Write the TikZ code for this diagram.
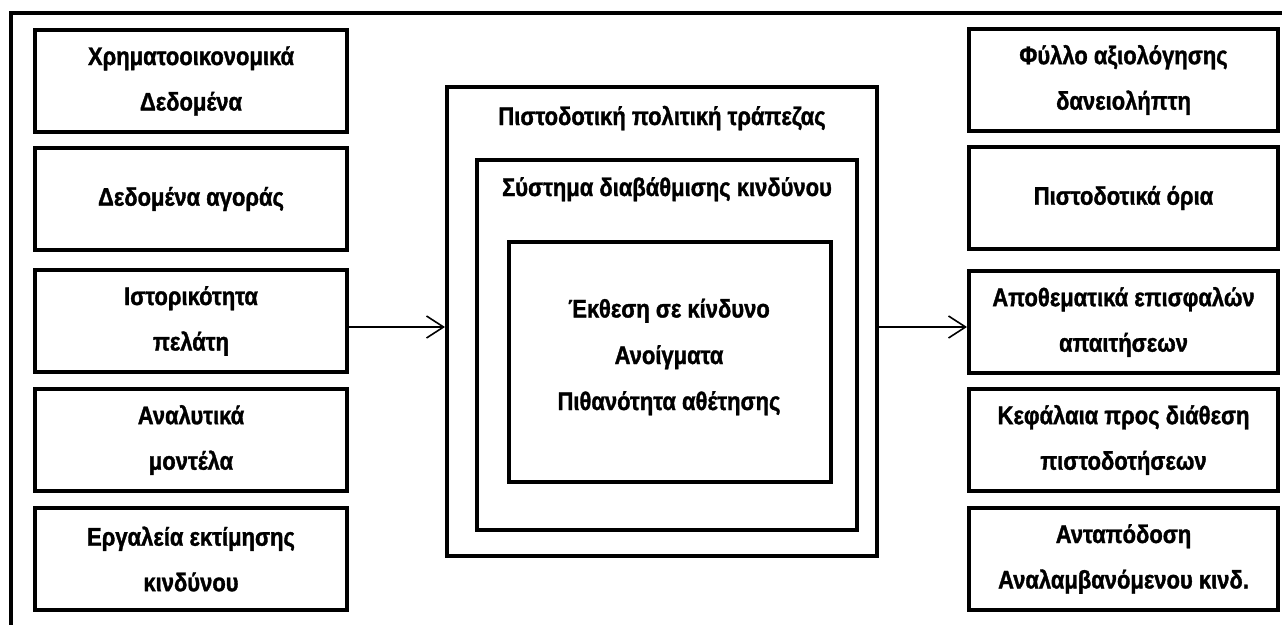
\documentclass[tikz,border=0pt]{standalone}
\usepackage{fontspec}
\setmainfont{Liberation Sans}[FakeStretch=0.862, BoldFeatures={FakeBold=1.3}]
\usetikzlibrary{arrows.meta}
\begin{document}
\begin{tikzpicture}[x=1pt,y=-1pt,
  txt/.style={font=\bfseries\fontsize{25.5}{45.5}\selectfont},
  box/.style={draw, line width=4pt, rectangle, inner sep=0pt, align=center, txt},
  lbox/.style={box, minimum width=312pt, minimum height=102pt},
  rbox/.style={box, minimum width=309pt, minimum height=102pt},
  lbl/.style={txt, anchor=base, inner sep=0pt},
  arr/.style={line width=1.6pt, -{Straight Barb[length=17pt,width=22pt,line width=1.6pt]}}]
\useasboundingbox (0,0) rectangle (1282,624);
\draw[line width=4pt] (11,640) -- (11,13) -- (1300,13);
% left column
\node[lbox] (l1) at (191,81) {Χρηματοοικονομικά\\Δεδομένα};
\node[lbox] (l2) at (191,199) {Δεδομένα αγοράς};
\node[lbox] (l3) at (191,321) {Ιστορικότητα\\πελάτη};
\node[lbox] (l4) at (191,440) {Αναλυτικά\\μοντέλα};
\node[lbox] (l5) at (191,559) {Εργαλεία εκτίμησης\\κινδύνου};
% right column
\node[rbox] (r1) at (1123.5,80) {Φύλλο αξιολόγησης\\δανειολήπτη};
\node[rbox] (r2) at (1123.5,198) {Πιστοδοτικά όρια};
\node[rbox] (r3) at (1123.5,322) {Αποθεματικά επισφαλών\\απαιτήσεων};
\node[rbox] (r4) at (1123.5,440) {Κεφάλαια προς διάθεση\\πιστοδοτήσεων};
\node[rbox] (r5) at (1123.5,559) {Ανταπόδοση\\Αναλαμβανόμενου κινδ.};
% centre
\node[box, minimum width=430pt, minimum height=469pt] (pol) at (662,321.5) {};
\node[box, minimum width=380pt, minimum height=370pt] (sys) at (667,345) {};
\node[box, minimum width=322pt, minimum height=240pt] (exp) at (670,362) {};
\node[lbl] (polt) at (662,125) {Πιστοδοτική πολιτική τράπεζας};
\node[lbl] (syst) at (667,196) {Σύστημα διαβάθμισης κινδύνου};
\node[lbl] (e1) at (669,317.5) {Έκθεση σε κίνδυνο};
\node[lbl] (e2) at (669,364) {Ανοίγματα};
\node[lbl] (e3) at (669,410) {Πιθανότητα αθέτησης};
% arrows
\coordinate (ya) at (0,327);
\draw[arr] (l3.east |- ya) -- (pol.west |- ya);
\draw[arr] (pol.east |- ya) -- (r3.west |- ya);
\end{tikzpicture}
\end{document}
